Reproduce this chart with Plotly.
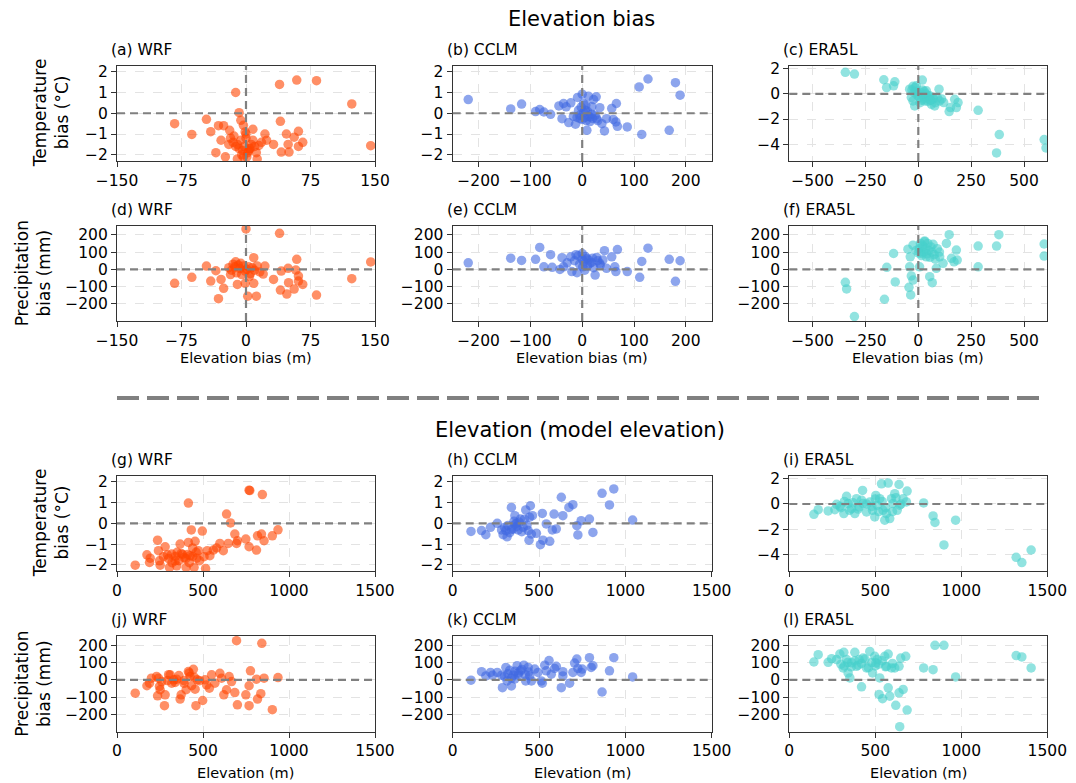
import plotly.graph_objects as go

W, H = 1076, 783

# ---------------- data ----------------
# (a) WRF: elevation bias (m) vs temperature bias (°C)
a_x = [-83, -63, -46, -41, -32, -26, -19, -29, -35, -24, -12, -8, -6, -3, -1, -10, 1, 5, 8, 13, 15, 18, 22, 24, 32,
       40, 39, 41, 47, 49, 50, 56, 59, 61, 61, 66, 82, 123, 145,
       -15, -12, -10, -8, -6, -4, -2, 0, 2, 4, 6, 8, -14, -5, 3, 10, -18, -20, 12, 0, -3]
a_y = [-0.5, -1.02, -0.29, -0.89, -0.6, -0.6, -0.82, -1.3, -1.9, -2.1, 1.0, 0.03, -0.34, -0.58, -0.9, -2.2, -2.1,
       -1.7, -0.77, -2.2, -1.55, -1.4, -1.0, -1.3, -1.5, -0.39, 1.39, -1.87, -1.0, -1.5, -1.87, -1.15, 1.6, -0.87,
       -1.6, -1.4, 1.57, 0.45, -1.56,
       -1.4, -1.6, -1.5, -1.7, -1.3, -1.8, -1.6, -1.2, -1.9, -1.7, -1.5, -1.3, -1.1, -2.0, -1.8, -1.6, -1.2, -1.5,
       -1.9, -1.0, -2.1]
# (b) CCLM
b_x = [-220, -138, -117, -90, -82, -74, -61, -45, -39, -36, -31, -26, -22, -17, -13, -9, -7, -4, 0, 2.5, 6, 9, 12,
       15, 18.5, 22, 27, 28, 34, 38, 43, 47, 57, 60, 65, 66, 68, 87, 110, 115, 127, 168, 180, 189,
       -5, 0, 3, 5, 8, 10, 12, 15, 18, 20, 25, -10, -2, 7, 30]
b_y = [0.66, 0.21, 0.44, 0.08, 0.18, 0.06, -0.05, 0.35, -0.26, 0.47, 0.31, -0.45, 0.5, -0.15, -0.53, 0.76, 0.15,
       -0.26, 0.92, 0.47, 0.15, -0.82, 0.82, -0.18, 0.31, 0.66, 0.79, -0.26, 0.27, -0.5, -0.85, -0.26, 0.23, -0.3,
       -0.42, 0.47, -0.63, -0.66, 1.27, -1.02, 1.65, -0.82, 1.47, 0.87,
       -0.1, -0.3, 0.05, -0.2, -0.35, 0.1, -0.15, -0.4, -0.05, -0.25, -0.1, -0.2, 0.3, 0.4, -0.35]
# (c) ERA5L
c_x = [-345, -302, -163, -150, -117, -111, -41, -33, -25, -17, -9.5, 19, 30, 38, 54, 62, 70, 77.5, 98, 101, 120,
       146, 152, 172, 180, 188, 283, 383, 370, 595, 604,
       -30, -20, -15, -10, -5, 0, 5, 10, 15, 20, 25, 30, 35, 40, 45, 50, 60, 70, 80, 90, -25, 8, 28, 55, 110]
c_y = [1.71, 1.57, 1.12, 0.5, 0.64, 0.96, 0.37, -0.29, -0.56, -0.96, 0.64, 1.09, -0.56, 0.24, -0.16, -0.83, -0.29,
       -0.96, 0.37, -0.56, -0.69, -1.41, -1.09, -0.43, -1.09, -0.69, -1.31, -3.23, -4.69, -3.63, -4.29,
       0.3, 0.1, 0.5, 0.2, -0.1, 0.0, -0.3, 0.1, -0.5, 0.3, -0.2, -0.4, 0.0, -0.3, -0.6, -0.2, -0.5, -0.4, -0.7,
       -0.3, 0.6, -0.7, 0.2, -0.5, -0.4]
# (d) WRF: elevation bias vs precipitation bias (mm)
d_x = [0, 39, -83, -63, -46, -41, -35, -29, -26, -32, -12, -10, -1, 2, 9, 9, 12, 22, 20, 32, 40, 41, 47.5, 49.5, 49,
       56, 59, 58, 61, 61, 66, 82, 123, 145,
       -20, -17, -15, -13, -11, -9, -7, -5, -3, -1, 1, 3, 5, 7, 10, 13, 16, -18, -6, 4]
d_y = [234, 209, -81, -46, 19, -68, -8, -58, -110, -170, 44, -87, -81, -155, 68, -81, -155, 19, -27, -58, -120, -10,
       -143, -77, 6, -114, 58, -4, -39, -68, -87, -149, -54, 43,
       10, -5, 30, 15, -20, 25, 5, -30, 20, -10, 0, 15, -25, 10, -5, 20, -15, -30, 35, -40]
# (e) CCLM
e_x = [-220, -138, -117, -90, -82, -74, -61, -58, -43, -39, -36, -29, -22, -20, -10, -8, 0, 1, 9, 15, 25, 28, 34,
       43, 47, 57, 63, 65, 68, 87, 111, 115, 127, 168, 180, 189,
       -15, -5, 0, 3, 6, 10, 12, 18, 20, 22, 30, 35, -12, 5, 40]
e_y = [38, 65, 52, 58, 127, 15, 85, 12, 0, 68, 15, 38, 73, -13, -19, 79, 92, 15, 63, 35, -33, 69, 35, 108, 6, 73,
       15, -13, 115, -13, -46, 46, 123, 58, -69, 50,
       50, 30, 60, 45, 75, 20, 55, 40, 65, 10, 50, 25, 85, -5, 55]
# (f) ERA5L
f_x = [-345, -339, -302, -160, -149, -117, -109, -49, -44, -36, -33, -25, -41, -38, -25, 6, 14, 22, 30, 38, 54, 66,
       85, 101, 117, 133, 146, 157, 169, 180, 184, 283, 283, 370, 381, 595, 595,
       5, 10, 15, 20, 25, 30, 35, 40, 45, 50, 55, 60, 65, 70, 75, 80, 90, -10, 0, 100]
f_y = [-75, -113, -273, -173, 12, 92, -73, 117, -104, -148, -38, -62, 15, 73, 140, 15, 92, 131, 160, 73, -42, -77,
       6, 73, 35, 150, 201, 64, 44, 112, 54, 135, 15, 135, 201, 147, 77,
       120, 150, 80, 140, 100, 165, 120, 90, 150, 110, 70, 130, 100, 145, 85, 60, 120, 110, 95, 100]
# (g) WRF: model elevation (m) vs temperature bias
g_x = [106, 174, 189, 193, 236, 241, 247, 251, 270, 280, 293, 305, 318, 338, 347, 367, 373, 390, 402, 415, 415, 425,
       432, 440, 448, 454, 463, 473, 496, 506, 515, 525, 540, 560, 579, 598, 618, 637, 647, 660, 685, 695, 700, 749,
       768, 772, 768, 811, 817, 840, 845, 855, 903, 936,
       300, 320, 340, 360, 380, 400, 420, 440, 460, 480, 350, 410]
g_y = [-2.02, -1.52, -1.89, -1.68, -0.81, -1.32, -1.81, -2.02, -1.61, -1.13, -1.52, -2.13, -1.48, -1.81, -2.05, -1.0,
       -1.45, -1.65, -2.13, 0.98, -0.92, -1.56, -0.32, -1.19, -2.13, -0.87, -1.68, -1.32, -0.37, -1.61, -2.18, -1.32,
       -1.56, -1.29, -1.19, -0.97, -1.32, 0.45, -0.97, 0.02, -0.52, -0.97, -0.84, -0.76, -1.13, 1.58, 1.6, -1.29,
       -0.6, -0.52, 1.39, -0.84, -0.6, -0.31,
       -1.7, -1.9, -1.6, -1.8, -1.5, -1.7, -1.9, -1.6, -1.4, -1.8, -1.4, -1.5]
# (h) CCLM
h_x = [106, 167, 192, 219, 258, 283, 292, 315, 308, 340, 350, 360, 369, 379, 392, 408, 423, 437, 442, 450, 456, 462,
       485, 508, 519, 523, 542, 562, 577, 587, 600, 629, 638, 673, 696, 719, 725, 744, 792, 812, 865, 908, 933, 1042,
       300, 320, 340, 355, 370, 385, 400, 415, 430, 445, 330, 360]
h_y = [-0.39, -0.35, -0.55, -0.19, 0, -0.32, -0.55, -0.65, -0.35, 0.77, -0.27, 0.37, 0, -0.32, 0.21, -0.19, 0.65,
       -0.35, -0.81, 0.85, -0.52, 0.37, -0.48, -1.03, 0.48, -0.81, -0.03, -0.87, -0.32, 0.45, -0.27, 1.26, 0.37,
       0.77, 0.9, -0.11, -0.56, 0.13, 0.21, -0.44, 1.45, 0.89, 1.66, 0.16,
       -0.2, -0.1, -0.3, 0.1, -0.15, 0.05, -0.4, 0.2, -0.1, 0.3, -0.45, -0.05]
# (i) ERA5L
i_x = [143, 168, 226, 265, 275, 294, 317, 333, 342, 362, 381, 391, 406, 426, 429, 449, 468, 484, 497, 503, 511, 526,
       536, 545, 555, 565, 575, 584, 594, 603, 613, 627, 638, 642, 662, 681, 685, 781, 836, 847, 899, 967, 1319,
       1352, 1406,
       300, 320, 350, 370, 400, 420, 450, 480, 500, 520, 540, 560, 600, 620, 650]
i_y = [-0.82, -0.45, -0.55, -0.45, -0.03, -0.18, -0.76, 0.61, 0.03, -0.37, -0.76, 0.42, -0.24, 1.08, 0.03, -0.63,
       0.16, -0.5, -1.03, 0.68, -0.1, 0.42, 1.6, -0.5, -1.29, -0.76, 1.66, -1.16, 0.42, 0.03, 0.82, -0.5, 1.55, -0.1,
       0.42, 0.16, 1.03, 0.08, -0.95, -1.47, -3.26, -1.29, -4.24, -4.66, -3.66,
       -0.3, 0.2, -0.5, 0.1, -0.4, 0.3, 0.0, -0.2, 0.4, -0.6, 0.2, -0.3, -0.6, 0.5, 0.0]
# (j) WRF: model elevation vs precipitation bias
j_x = [106, 174, 189, 236, 241, 247, 251, 276, 280, 293, 309, 318, 338, 347, 367, 373, 390, 402, 415, 425, 434, 444,
       454, 459, 467, 498, 512, 521, 537, 550, 569, 598, 608, 621, 637, 652, 666, 685, 695, 700, 749, 768, 768, 776,
       811, 817, 836, 842, 855, 903, 936,
       200, 230, 260, 300, 330, 360, 390, 420, 450, 480]
j_y = [-77, -34, -19, -92, 10, -38, -57, -149, -86, -4, 29, -19, -15, 4, -111, -86, -4, -57, 48, 19, -34, 61, -54,
       -149, 0, -119, 0, -29, -48, 29, -19, 38, 10, -86, -57, 19, -10, -73, 226, -144, -86, -34, -149, 52, 4, -111,
       -80, 211, 10, -172, 13,
       10, 20, -10, 30, 0, 25, -20, 40, 15, -5]
# (k) CCLM
k_x = [106, 167, 192, 219, 231, 258, 283, 288, 308, 315, 340, 350, 373, 379, 392, 412, 423, 437, 446, 456, 475, 494,
       513, 519, 533, 542, 558, 571, 590, 600, 629, 638, 638, 677, 696, 706, 719, 725, 744, 750, 792, 802, 812, 865,
       908, 933, 1042,
       300, 320, 340, 360, 380, 400, 420, 440, 360, 330]
k_y = [-2, 47, 23, 43, 27, 43, 27, -45, 72, -6, -35, 27, 82, 27, 52, 85, -6, 72, 23, -6, 62, 43, -6, -19, 85, 52,
       111, 33, 66, 78, -45, 23, 47, -19, 43, 97, 120, 66, 43, 62, 128, 72, 82, -70, 52, 128, 17,
       20, 35, 10, 50, 40, 60, 30, 45, 5, 55]
# (l) ERA5L
l_x = [143, 168, 226, 246, 275, 294, 317, 313, 333, 342, 352, 362, 381, 391, 406, 420, 429, 449, 468, 484, 497, 503,
       511, 522, 526, 542, 555, 565, 575, 575, 584, 594, 613, 619, 638, 638, 642, 648, 662, 677, 685, 781, 836, 847,
       899, 967, 1319, 1352, 1406,
       300, 320, 340, 360, 380, 400, 420, 440, 460, 480, 500, 520, 540, 560, 600]
l_y = [103, 145, 101, 122, 117, 149, 159, 69, 117, 40, 11, 98, 159, 78, 117, -40, 126, 69, 164, 40, 136, 98, 117,
       -84, 11, -109, 136, 78, 149, -46, -94, 69, 69, -147, 78, -75, -270, 126, -55, 136, -174, 69, 59, 199, 199, 17,
       140, 132, 69,
       90, 80, 100, 75, 110, 85, 95, 120, 70, 100, 80, 90, 110, 75, 95]

panel_titles = ["(a) WRF", "(b) CCLM", "(c) ERA5L", "(d) WRF", "(e) CCLM", "(f) ERA5L",
                "(g) WRF", "(h) CCLM", "(i) ERA5L", "(j) WRF", "(k) CCLM", "(l) ERA5L"]
model_colors = ["#FF4500", "#4169E1", "#48D1CC"]

temp_ticks = [-2, -1, 0, 1, 2]
temp_ticks_era = [-4, -2, 0, 2]
prec_ticks = [-200, -100, 0, 100, 200]
dz_ticks = [[-150, -75, 0, 75, 150], [-200, -100, 0, 100, 200], [-500, -250, 0, 250, 500]]
elev_ticks = [0, 500, 1000, 1500]

# ---------------- layout helpers ----------------
FONT = "DejaVu Sans"
col_px = [(117, 375), (452.7, 711.7), (789.3, 1047.3)]
row_px = [(65.5, 161), (225.7, 321), (475.7, 571), (636, 731.7)]


def fx(p):
    return p / W


def fy(p):
    return 1 - p / H


data_sets = [(a_x, a_y), (b_x, b_y), (c_x, c_y), (d_x, d_y), (e_x, e_y), (f_x, f_y),
             (g_x, g_y), (h_x, h_y), (i_x, i_y), (j_x, j_y), (k_x, k_y), (l_x, l_y)]

xranges_dz = [[-150, 150], [-250, 250], [-610, 610]]
temp_range = [-2.3, 2.3]
temp_range_era = [-5.33, 2.25]
prec_range = [-299, 253]

fig = go.Figure()
layout = dict(
    width=W, height=H, autosize=False,
    margin=dict(l=0, r=0, t=0, b=0, pad=0, autoexpand=False),
    paper_bgcolor="white", plot_bgcolor="white",
    showlegend=False, font=dict(family=FONT, size=15.5, color="black"),
)
shapes = []
annotations = []

for idx, (xs, ys) in enumerate(data_sets):
    r, c = divmod(idx, 3)
    n = idx + 1
    xa = "x" if n == 1 else f"x{n}"
    ya = "y" if n == 1 else f"y{n}"
    fig.add_trace(go.Scatter(
        x=xs, y=ys, mode="markers", xaxis=xa, yaxis=ya,
        marker=dict(size=9.5, color=model_colors[c], opacity=0.6, line=dict(width=0)),
        hoverinfo="skip",
    ))
    if r < 2:
        xr, xt = xranges_dz[c], dz_ticks[c]
    else:
        xr, xt = [0, 1500], elev_ticks
    if r in (0, 2):
        if c == 2:
            yr, yt = temp_range_era, temp_ticks_era
        else:
            yr, yt = temp_range, temp_ticks
    else:
        yr, yt = prec_range, prec_ticks
    common = dict(showline=True, mirror=True, linecolor="#333333", linewidth=1.3,
                  ticks="outside", ticklen=5, tickwidth=1.2, tickcolor="#333333",
                  showgrid=True, gridcolor="#e3e3e3", gridwidth=1, griddash="dash",
                  zeroline=False, automargin=False,
                  tickfont=dict(family=FONT, size=15.5, color="black"))
    layout["xaxis" if n == 1 else f"xaxis{n}"] = dict(
        domain=[fx(col_px[c][0]), fx(col_px[c][1])], anchor=ya, range=xr,
        tickmode="array", tickvals=xt, **common)
    layout["yaxis" if n == 1 else f"yaxis{n}"] = dict(
        domain=[fy(row_px[r][1]), fy(row_px[r][0])], anchor=xa, range=yr,
        tickmode="array", tickvals=yt, **common)
    # dashed zero lines
    shapes.append(dict(type="line", xref=f"{xa} domain", yref=ya, x0=0, x1=1, y0=0, y1=0,
                       line=dict(color="#808080", width=2.2, dash="8px,5px"), layer="above"))
    if r < 2:
        shapes.append(dict(type="line", xref=xa, yref=f"{ya} domain", x0=0, x1=0, y0=0, y1=1,
                           line=dict(color="#808080", width=2.2, dash="8px,5px"), layer="above"))
    # panel title
    annotations.append(dict(text=panel_titles[idx], xref="paper", yref="paper",
                            x=fx(col_px[c][0] - 8), y=fy(row_px[r][0] - 5),
                            xanchor="left", yanchor="bottom", showarrow=False,
                            font=dict(family=FONT, size=15.5, color="black")))

# super titles
annotations.append(dict(text="Elevation bias", xref="paper", yref="paper", x=fx(581), y=fy(19),
                        xanchor="center", yanchor="middle", showarrow=False,
                        font=dict(family=FONT, size=21, color="black")))
annotations.append(dict(text="Elevation (model elevation)", xref="paper", yref="paper", x=fx(580), y=fy(430),
                        xanchor="center", yanchor="middle", showarrow=False,
                        font=dict(family=FONT, size=21, color="black")))
# x-axis titles
for c in range(3):
    cx = (col_px[c][0] + col_px[c][1]) / 2
    annotations.append(dict(text="Elevation bias (m)", xref="paper", yref="paper", x=fx(cx), y=fy(358),
                            xanchor="center", yanchor="middle", showarrow=False,
                            font=dict(family=FONT, size=14.5, color="black")))
    annotations.append(dict(text="Elevation (m)", xref="paper", yref="paper", x=fx(cx), y=fy(773),
                            xanchor="center", yanchor="middle", showarrow=False,
                            font=dict(family=FONT, size=14.5, color="black")))
# y-axis titles
for r, (txt, xc) in enumerate([("Temperature<br>bias (°C)", 51), ("Precipitation<br>bias (mm)", 33),
                               ("Temperature<br>bias (°C)", 51), ("Precipitation<br>bias (mm)", 33)]):
    cy = (row_px[r][0] + row_px[r][1]) / 2
    annotations.append(dict(text=txt, xref="paper", yref="paper", x=fx(xc), y=fy(cy),
                            xanchor="center", yanchor="middle", textangle=-90, showarrow=False,
                            font=dict(family=FONT, size=17, color="black")))

# separator dashed line
shapes.append(dict(type="line", xref="paper", yref="paper", x0=fx(117), x1=fx(1047), y0=fy(398), y1=fy(398),
                   line=dict(color="#808080", width=4, dash="22px,8px")))

layout["shapes"] = shapes
layout["annotations"] = annotations
fig.update_layout(**layout)
fig.write_html("out.html")
